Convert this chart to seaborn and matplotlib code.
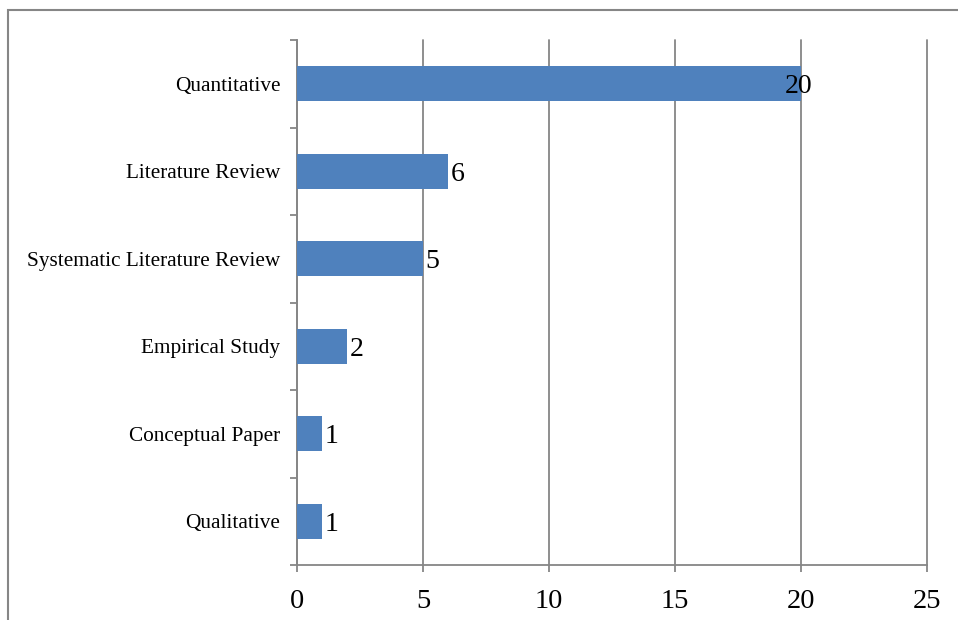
import matplotlib
matplotlib.use("Agg")
import matplotlib.pyplot as plt
import seaborn as sns
import pandas as pd
from matplotlib.patches import Rectangle
from matplotlib.ticker import FixedLocator

categories = ["Quantitative", "Literature Review", "Systematic Literature Review",
              "Empirical Study", "Conceptual Paper", "Qualitative"]
counts = [20, 6, 5, 2, 1, 1]
x_ticks = [0, 5, 10, 15, 20, 25]

df = pd.DataFrame({"category": categories, "count": counts})

sns.set_theme(style="white")
plt.rcParams["font.family"] = ["Liberation Serif", "DejaVu Serif"]

GRAY = "#868686"
BLUE = "#4f81bd"

fig = plt.figure(figsize=(9.58, 6.2), dpi=100)
ax = fig.add_axes([297/958, 1-565/620, (927-297)/958, (565-40)/620])

# outer chart frame
fig.patches.append(Rectangle((8/958, -0.1), 1.2, 1.1 - 10/620, transform=fig.transFigure,
                             fill=False, edgecolor=GRAY, linewidth=1.5, zorder=0))

sns.barplot(data=df, y="category", x="count", orient="h", color=BLUE,
            saturation=1, width=0.4, edgecolor="none", ax=ax, zorder=3)

ax.set_xlim(0, 25)
ax.set_ylim(len(categories) - 0.5, -0.5)
ax.set_xticks(x_ticks)
ax.set_xticklabels([str(t) for t in x_ticks], fontsize=20.5)
ax.grid(axis="x", color=GRAY, linewidth=1.3, zorder=0)
ax.grid(axis="y", visible=False)
for gl in ax.get_xgridlines():
    gl.set_clip_on(False)
ax.set_xlabel("")
ax.set_ylabel("")

ax.set_yticks(range(len(categories)))
ax.set_yticklabels(categories, fontsize=15.3)
ax.yaxis.set_minor_locator(FixedLocator([i - 0.5 for i in range(len(categories) + 1)]))
ax.tick_params(axis="y", which="major", length=0, pad=12, colors="black")
ax.tick_params(axis="y", which="minor", length=5, width=1.3, color=GRAY, direction="out", left=True)
ax.tick_params(axis="x", which="major", length=5, width=1.3, color=GRAY, direction="out",
               bottom=True, pad=12, labelcolor="black")

for side in ["top", "right"]:
    ax.spines[side].set_visible(False)
for side in ["left", "bottom"]:
    ax.spines[side].set_color(GRAY)
    ax.spines[side].set_linewidth(1.3)

offsets = {20: -12}
for patch, v in zip(ax.patches, counts):
    yc = patch.get_y() + patch.get_height() / 2
    ax.annotate(str(v), xy=(patch.get_width(), yc), xytext=(offsets.get(v, 1.5), 0),
                textcoords="offset points", va="center_baseline", ha="left", fontsize=20,
                color="black", zorder=5)

fig.savefig("out.png", dpi=100)
